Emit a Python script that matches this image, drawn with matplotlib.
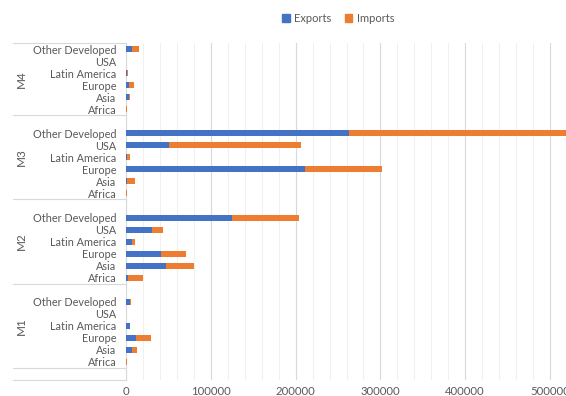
import matplotlib.pyplot as plt
import matplotlib.transforms as mtransforms
from matplotlib.patches import Patch
from matplotlib.ticker import MultipleLocator

plt.rcParams['font.family'] = ['Lato', 'DejaVu Sans']

# categories, bottom-up inside each group
regions = ["Africa", "Asia", "Europe", "Latin America", "USA", "Other Developed"]
groups = ["M1", "M2", "M3", "M4"]

exports = {
    "M1": [0, 6700, 11100, 4000, 0, 4000],
    "M2": [1600, 46500, 41000, 6400, 30300, 124400],
    "M3": [0, 800, 211000, 300, 50800, 263300],
    "M4": [0, 3200, 3200, 800, 0, 6700],
}
imports = {
    "M1": [1200, 5900, 17700, 800, 0, 1200],
    "M2": [18500, 33400, 29100, 3500, 12700, 79500],
    "M3": [1200, 9800, 91000, 3500, 156000, 290000],
    "M4": [1200, 1200, 5900, 800, 0, 8600],
}
xticks = [0, 100000, 200000, 300000, 400000, 500000]

blue = "#4472C4"
orange = "#ED7D31"
txt = "#595959"

W, H = 566, 396
fig = plt.figure(figsize=(W / 100, H / 100), dpi=100)
x0 = 126.3
px_per_unit = 84.7 / 100000
xmax = 600000
ax = fig.add_axes([x0 / W, 1 - 380 / H, xmax * px_per_unit / W, (380 - 43) / H])

# slot layout: one blank slot between groups and one at the bottom
ypos = []
ylabels = []
slot = 1
for g in groups:
    ys = list(range(slot, slot + len(regions)))
    ax.barh(ys, exports[g], height=0.5, color=blue, zorder=3)
    ax.barh(ys, imports[g], left=exports[g], height=0.5, color=orange, zorder=3)
    ypos += ys
    ylabels += regions
    slot += len(regions) + 1
nslots = slot - 1

ax.set_ylim(-0.5, nslots - 0.5)
ax.set_xlim(0, xmax)
ax.set_yticks(ypos)
ax.set_yticklabels(ylabels, fontsize=7.8, color=txt)
ax.tick_params(axis="y", length=0, pad=7)
ax.set_xticks(xticks)
ax.set_xticklabels([str(v) for v in xticks], fontsize=8.2, color=txt)
ax.tick_params(axis="x", which="both", length=0, pad=4)
ax.xaxis.set_minor_locator(MultipleLocator(20000))
ax.grid(axis="x", which="major", color="#d9d9d9", lw=0.8)
ax.grid(axis="x", which="minor", color="#f0f0f0", lw=0.8)
ax.set_axisbelow(True)
for s in ["top", "right", "bottom"]:
    ax.spines[s].set_visible(False)
ax.spines["left"].set_color("#d9d9d9")

# group separators and labels
trans = mtransforms.blended_transform_factory(fig.transFigure, ax.transData)
bounds = [-0.5, 0.5, 7.5, 14.5, 21.5, nslots - 0.5]
for b in bounds:
    ax.plot([13 / W, x0 / W], [b, b], transform=trans, color="#d9d9d9",
            lw=0.8, clip_on=False)
for g, lo, hi in zip(groups, bounds[1:-1], bounds[2:]):
    fig.text(21 / W, (lo + hi) / 2, g, transform=trans, rotation=90,
             ha="center", va="center", fontsize=8.5, color=txt)

handles = [Patch(color=blue, label="Exports"), Patch(color=orange, label="Imports")]
fig.legend(handles=handles, loc="center", bbox_to_anchor=(338 / W, 1 - 18 / H),
           ncol=2, frameon=False, fontsize=8, handlelength=0.7, handleheight=0.7,
           handletextpad=0.4, columnspacing=1.2, labelcolor=txt)

fig.savefig("out.png", dpi=100)
